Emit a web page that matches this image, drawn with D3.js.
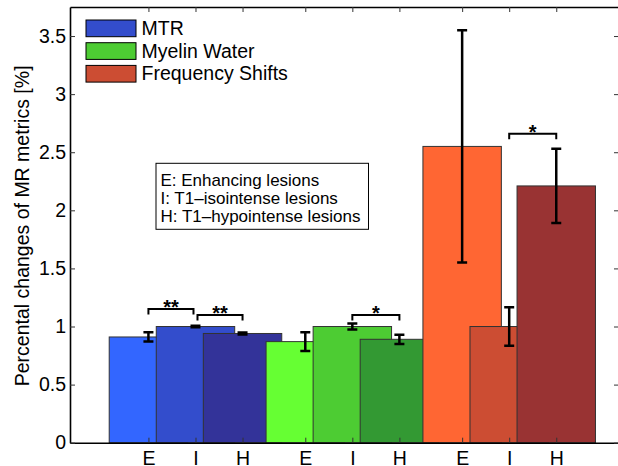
<!DOCTYPE html>
<html>
<head>
<meta charset="utf-8">
<script src="https://cdn.jsdelivr.net/npm/d3@7"></script>
<style>
  body { margin: 0; background: #fff; }
  svg { display: block; font-family: "Liberation Sans", Arial, Helvetica, sans-serif; }
</style>
</head>
<body>
<svg id="chart" width="618" height="466"></svg>
<script>
// data
var groups = ["MTR", "Myelin Water", "Frequency Shifts"];
var lesionTypes = ["E", "I", "H"];
var mtrValues = [0.91, 1.00, 0.94];
var mtrErrors = [0.04, 0.006, 0.008];
var myelinValues = [0.87, 1.00, 0.89];
var myelinErrors = [0.08, 0.025, 0.04];
var freqValues = [2.55, 1.00, 2.21];
var freqErrors = [1.00, 0.165, 0.32];
var yTicks = [0, 0.5, 1, 1.5, 2, 2.5, 3, 3.5];
var infoLines = ["E: Enhancing lesions", "I: T1\u2013isointense lesions", "H: T1\u2013hypointense lesions"];

// significance brackets
var sigGroup = [0, 0, 1, 2];
var sigFrom = ["E", "I", "I", "I"];
var sigTo = ["I", "H", "H", "H"];
var sigLevel = [1.15, 1.10, 1.10, 2.66];
var sigLabel = ["**", "**", "*", "*"];

// colours
var barColors = [
    ["#3366ff", "#334dcc", "#333399"],
    ["#66ff33", "#4dcc33", "#339933"],
    ["#ff6633", "#cc4d33", "#993333"]
];
var legendColors = ["#334dcc", "#4dcc33", "#cc4d33"];

var plotLeft = 70, plotRight = 619, plotTop = 7, plotBottom = 442.7;
var offset = { E: -0.3, I: 0, H: 0.3 };
var barWidth = 0.5;

var svg = d3.select("#chart");

var xScale = d3.scaleLinear().domain([0.2, 3.7]).range([plotLeft, plotRight]);
var yScale = d3.scaleLinear().domain([0, 3.75]).range([plotBottom, plotTop]);

// build the bar table
var valueSets = [mtrValues, myelinValues, freqValues];
var errorSets = [mtrErrors, myelinErrors, freqErrors];
var bars = [];
groups.forEach(function(g, gi) {
    lesionTypes.forEach(function(t, ti) {
        bars.push({
            group: gi,
            type: t,
            pos: gi + 1 + offset[t],
            value: valueSets[gi][ti],
            err: errorSets[gi][ti],
            color: barColors[gi][ti]
        });
    });
});

// bars
svg.append("g").selectAll("rect")
    .data(bars)
    .enter()
    .append("rect")
    .attr("x", function(d) { return xScale(d.pos - barWidth / 2); })
    .attr("y", function(d) { return yScale(d.value); })
    .attr("width", function(d) { return xScale(d.pos + barWidth / 2) - xScale(d.pos - barWidth / 2); })
    .attr("height", function(d) { return yScale(0) - yScale(d.value); })
    .attr("fill", function(d) { return d.color; })
    .attr("stroke", "#333")
    .attr("stroke-width", 1);

// error bars
var errG = svg.append("g").attr("stroke", "black").attr("stroke-width", 2.5).attr("fill", "none");
bars.forEach(function(d) {
    var cx = xScale(d.pos);
    var y1 = yScale(d.value + d.err);
    var y2 = yScale(d.value - d.err);
    errG.append("path")
        .attr("d", "M" + cx + "," + y1 + "V" + y2 +
            "M" + (cx - 5) + "," + y1 + "H" + (cx + 5) +
            "M" + (cx - 5) + "," + y2 + "H" + (cx + 5));
});

// axes (ticks pointing inward, box around the plot)
var xTickVals = bars.map(function(d) { return d.pos; });
var xTickText = bars.map(function(d) { return d.type; });

var xAxis = d3.axisBottom(xScale)
    .tickValues(xTickVals)
    .tickFormat(function(d, i) { return xTickText[i]; })
    .tickSizeInner(-5).tickSizeOuter(0).tickPadding(8);
var xAxisTop = d3.axisTop(xScale)
    .tickValues(xTickVals).tickFormat("")
    .tickSizeInner(-5).tickSizeOuter(0);
var yAxis = d3.axisLeft(yScale)
    .tickValues(yTicks)
    .tickFormat(function(d) { return String(d); })
    .tickSizeInner(-5).tickSizeOuter(0).tickPadding(4);
var yAxisRight = d3.axisRight(yScale)
    .tickValues(yTicks).tickFormat("")
    .tickSizeInner(-5).tickSizeOuter(0);

function styleAxis(g) {
    g.select(".domain").attr("stroke", "black").attr("stroke-width", 1.6);
    g.selectAll(".tick line").attr("stroke", "#333").attr("stroke-width", 1);
    g.selectAll(".tick text").attr("fill", "black").style("font-size", "19.5px")
        .style("font-family", "'Liberation Sans', Arial, Helvetica, sans-serif");
}

svg.append("g").attr("transform", "translate(0," + plotBottom + ")").call(xAxis).call(styleAxis);
svg.append("g").attr("transform", "translate(0," + plotTop + ")").call(xAxisTop).call(styleAxis);
svg.append("g").attr("transform", "translate(" + plotLeft + ",0)").call(yAxis).call(styleAxis);
svg.append("g").attr("transform", "translate(" + plotRight + ",0)").call(yAxisRight).call(styleAxis);

// y axis label
svg.append("text")
    .attr("transform", "translate(29," + ((plotTop + plotBottom) / 2 + 1) + ") rotate(-90)")
    .attr("text-anchor", "middle")
    .style("font-size", "19.5px")
    .text("Percental changes of MR metrics [%]");

// significance brackets
var sigG = svg.append("g");
sigLevel.forEach(function(lvl, i) {
    var g = sigGroup[i] + 1;
    var x1 = xScale(g + offset[sigFrom[i]]);
    var x2 = xScale(g + offset[sigTo[i]]);
    // leave a small gap where two brackets of a group meet
    for (var j = 0; j < sigLevel.length; j++) {
        if (j == i || sigGroup[j] != sigGroup[i]) continue;
        if (sigTo[i] == sigFrom[j]) x2 -= 2;
        if (sigFrom[i] == sigTo[j]) x1 += 2;
    }
    var y = yScale(lvl);
    sigG.append("path")
        .attr("d", "M" + x1 + "," + (y + 5.5) + "V" + y + "H" + x2 + "V" + (y + 5.5))
        .attr("fill", "none")
        .attr("stroke", "black")
        .attr("stroke-width", 2);
    sigG.append("text")
        .attr("x", (x1 + x2) / 2)
        .attr("y", y + 5)
        .attr("text-anchor", "middle")
        .style("font-size", "20px")
        .style("font-weight", "bold")
        .text(sigLabel[i]);
});

// info box
var info = svg.append("g");
info.append("rect")
    .attr("x", 156).attr("y", 163.3)
    .attr("width", 212.5).attr("height", 66)
    .attr("fill", "white").attr("stroke", "black").attr("stroke-width", 1);
info.selectAll("text")
    .data(infoLines)
    .enter()
    .append("text")
    .attr("x", 160.5)
    .attr("y", function(d, i) { return 185.7 + i * 18; })
    .style("font-size", "17px")
    .text(function(d) { return d; });

// legend
var legend = svg.append("g");
groups.forEach(function(g, i) {
    legend.append("rect")
        .attr("x", 86).attr("y", 20 + i * 22.7)
        .attr("width", 50).attr("height", 16.7)
        .attr("fill", legendColors[i])
        .attr("stroke", "black").attr("stroke-width", 1);
    legend.append("text")
        .attr("x", 141.5).attr("y", 35 + i * 22.7)
        .style("font-size", "19.5px")
        .text(g);
});
</script>
</body>
</html>
